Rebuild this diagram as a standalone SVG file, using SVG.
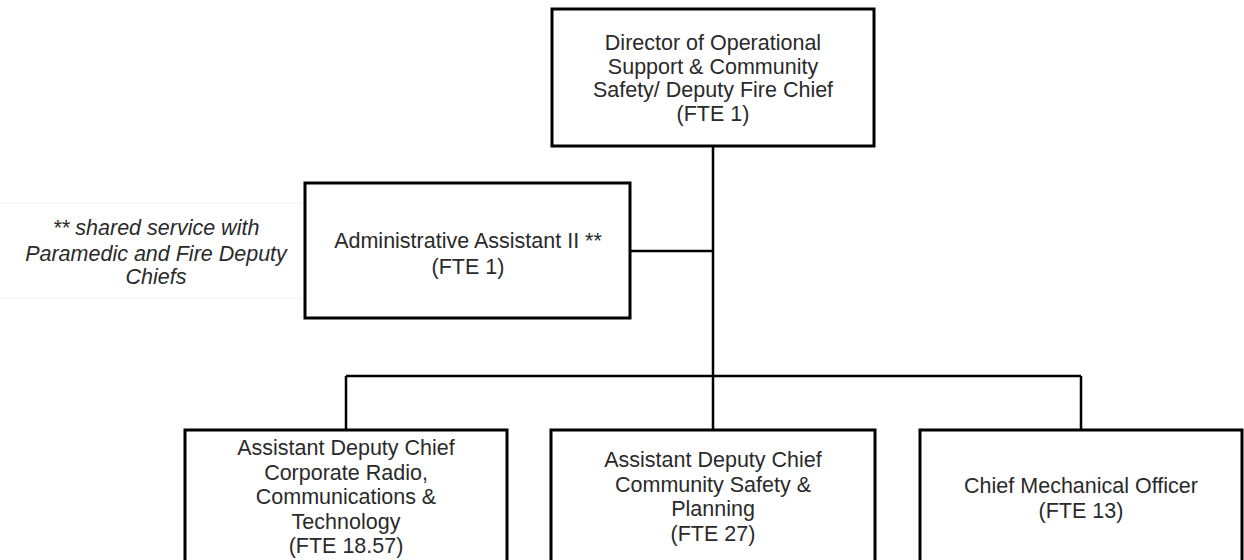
<svg xmlns="http://www.w3.org/2000/svg" width="1244" height="560" viewBox="0 0 1244 560">
<style>
.box{fill:#fff;stroke:#000;stroke-width:3}
.conn{fill:none;stroke:#000;stroke-width:2.5}
.t{font-family:"Liberation Sans",Arial,sans-serif;font-size:21.5px;fill:#2a2a2a;text-anchor:middle}
.note{font-style:italic}
</style>
<rect width="1244" height="560" fill="#fff"/>
<g id="note">
<rect x="-2" y="203" width="307" height="95" fill="none" stroke="#f4f4f4" stroke-width="1"/>
<text class="t note" x="156" y="235">** shared service with</text>
<text class="t note" x="156" y="261">Paramedic and Fire Deputy</text>
<text class="t note" x="156" y="284">Chiefs</text>
</g>
<g id="connectors">
<line class="conn" x1="713" y1="146" x2="713" y2="376"/>
<line class="conn" x1="630" y1="251" x2="713" y2="251"/>
<line class="conn" x1="346" y1="376" x2="1081" y2="376"/>
<line class="conn" x1="346" y1="376" x2="346" y2="430"/>
<line class="conn" x1="713" y1="376" x2="713" y2="430"/>
<line class="conn" x1="1081" y1="376" x2="1081" y2="430"/>
</g>
<g id="director">
<rect class="box" x="552" y="9" width="322" height="137"/>
<text class="t" x="713" y="50">Director of Operational</text>
<text class="t" x="713" y="73.5">Support &amp; Community</text>
<text class="t" x="713" y="97">Safety/ Deputy Fire Chief</text>
<text class="t" x="713" y="120.5">(FTE 1)</text>
</g>
<g id="admin">
<rect class="box" x="305" y="183" width="325" height="135"/>
<text class="t" x="468" y="247.5">Administrative Assistant II **</text>
<text class="t" x="468" y="274">(FTE 1)</text>
</g>
<g id="adc-radio">
<rect class="box" x="185" y="430" width="322" height="137"/>
<text class="t" x="346" y="455">Assistant Deputy Chief</text>
<text class="t" x="346" y="480">Corporate Radio,</text>
<text class="t" x="346" y="504">Communications &amp;</text>
<text class="t" x="346" y="529">Technology</text>
<text class="t" x="346" y="553">(FTE 18.57)</text>
</g>
<g id="adc-safety">
<rect class="box" x="551" y="430" width="324" height="137"/>
<text class="t" x="713" y="467">Assistant Deputy Chief</text>
<text class="t" x="713" y="491.5">Community Safety &amp;</text>
<text class="t" x="713" y="516">Planning</text>
<text class="t" x="713" y="540.5">(FTE 27)</text>
</g>
<g id="cmo">
<rect class="box" x="920" y="430" width="322" height="137"/>
<text class="t" x="1081" y="493">Chief Mechanical Officer</text>
<text class="t" x="1081" y="518">(FTE 13)</text>
</g>
</svg>
